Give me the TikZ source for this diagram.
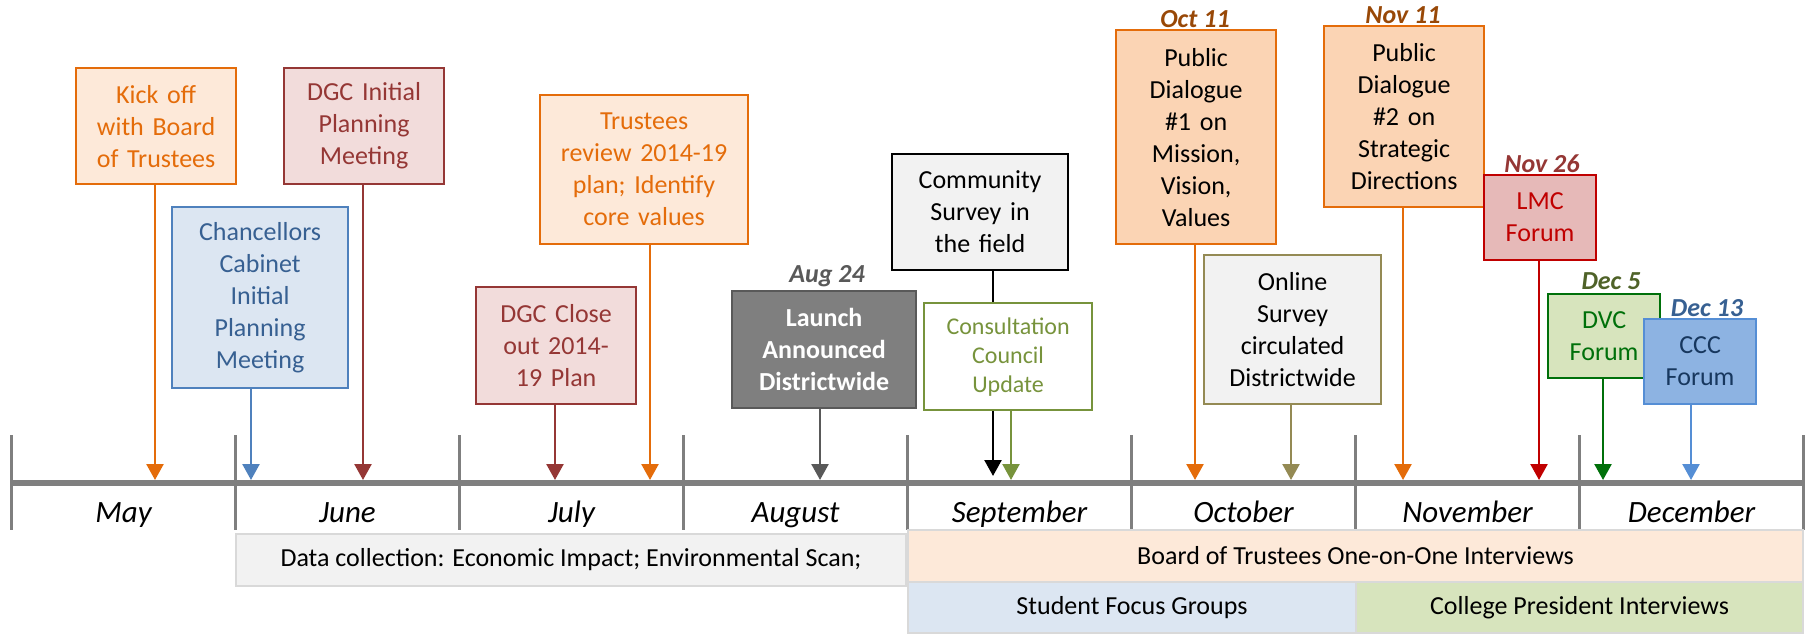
\documentclass[tikz,border=0pt]{standalone}
\usepackage{fontspec}
\setmainfont{Carlito}
\usetikzlibrary{arrows.meta}

\definecolor{lineGray}{HTML}{7F7F7F}
\definecolor{darkGray}{HTML}{595959}
\definecolor{barGray}{HTML}{D9D9D9}
\definecolor{paleGray}{HTML}{F2F2F2}
\definecolor{orng}{HTML}{E46C0A}
\definecolor{orngPale}{HTML}{FDE9D9}
\definecolor{orngLight}{HTML}{FBD4B4}
\definecolor{orngDark}{HTML}{984807}
\definecolor{brick}{HTML}{953735}
\definecolor{brickPale}{HTML}{F2DCDB}
\definecolor{blu}{HTML}{4F81BD}
\definecolor{bluText}{HTML}{376092}
\definecolor{bluPale}{HTML}{DCE6F2}
\definecolor{bluMid}{HTML}{8DB3E2}
\definecolor{bluLine}{HTML}{558ED5}
\definecolor{navy}{HTML}{17375E}
\definecolor{olive}{HTML}{77933C}
\definecolor{khaki}{HTML}{948A54}
\definecolor{crimson}{HTML}{C00000}
\definecolor{crimsonPale}{HTML}{E6B9B8}
\definecolor{grn}{HTML}{00700A}
\definecolor{grnPale}{HTML}{D7E4BD}
\definecolor{grnDark}{HTML}{4F6228}

\begin{document}
\begin{tikzpicture}[x=1pt,y=-1pt,
	ev/.style={draw,line width=2.2pt,inner sep=0pt,anchor=north west,align=center,font=\fontsize{26}{32}\selectfont},
	wh/.style 2 args={text width=#1,minimum height=#2},
	bar/.style={draw=barGray,line width=2pt,inner sep=0pt,anchor=north west,font=\fontsize{26}{32}\selectfont},
	date/.style={anchor=base,inner sep=0pt,font=\fontsize{26}{32}\selectfont\bfseries\itshape},
	month/.style={anchor=base,inner sep=0pt,font=\fontsize{31}{36}\selectfont\itshape},
	arr/.style={line width=2.5pt,-{Triangle[width=17pt,length=16pt]}}]
	\useasboundingbox (0,0) rectangle (1806,634);

	% time line and months
	\draw[line width=6pt,lineGray] (10,483) -- (1803,483);
	\foreach \i in {0,...,8}
		\draw[line width=3.5pt,lineGray] (11.5+224*\i,435) -- ++(0,95);
	\foreach \m [count=\i from 0] in {May,June,July,August,September,October,November,December}
		\node[month] (m\i) at (123.5+224*\i,522) {\m};

	% bars below
	\node[bar,fill=paleGray,minimum width=670,minimum height=52] (data) at (235,533) {Data collection: Economic Impact; Environmental Scan;};
	\node[bar,fill=orngPale,minimum width=895,minimum height=52] (board) at (907,529) {Board of Trustees One-on-One Interviews};
	\node[bar,fill=bluPale,minimum width=448,minimum height=51] (student) at (907,581) {Student Focus Groups};
	\node[bar,fill=grnPale,minimum width=447,minimum height=51] (college) at (1355,581) {College President Interviews};

	% May - August
	\node[ev,wh={160}{116},draw=orng,fill=orngPale,text=orng] (kick) at (75,67) {Kick off\\with Board\\of Trustees};
	\node[ev,wh={176}{181},draw=blu,fill=bluPale,text=bluText] (chanc) at (171,206) {Chancellors\\Cabinet\\Initial\\Planning\\Meeting};
	\node[ev,wh={160}{116},draw=brick,fill=brickPale,text=brick] (dgcA) at (283,67) {DGC Initial\\Planning\\Meeting};
	\node[ev,wh={208}{149},draw=orng,fill=orngPale,text=orng] (trust) at (539,94) {Trustees\\review 2014-19\\plan; Identify\\core values};
	\node[ev,wh={160}{117},draw=brick,fill=brickPale,text=brick] (dgcB) at (475,286) {DGC Close\\out 2014-\\19 Plan};
	\node[ev,wh={184}{117},draw=darkGray,fill=lineGray,text=white,font=\fontsize{26}{32}\selectfont\bfseries] (launch) at (731,290) {Launch\\Announced\\Districtwide};
	\node[date,text=darkGray] (d1) at (827,282) {Aug 24};

	\coordinate (kickT) at (155,480);
	\coordinate (chancT) at (251,480);
	\coordinate (dgcAT) at (363,480);
	\coordinate (dgcBT) at (555,480);
	\coordinate (trustT) at (650,480);
	\coordinate (launchT) at (820,480);
	\draw[arr,orng] (kick.south -| kickT) -- (kickT);
	\draw[arr,blu] (chanc.south -| chancT) -- (chancT);
	\draw[arr,brick] (dgcA.south -| dgcAT) -- (dgcAT);
	\draw[arr,brick] (dgcB.south -| dgcBT) -- (dgcBT);
	\draw[arr,orng] (trust.south -| trustT) -- (trustT);
	\draw[arr,darkGray] (launch.south -| launchT) -- (launchT);

	% September - December
	\node[ev,wh={176}{116},draw=black,fill=paleGray] (comm) at (891,153) {Community\\Survey in\\the field};
	\coordinate (commT) at (993,476);
	\draw[arr,black] (comm.south -| commT) -- (commT);
	\node[ev,wh={168}{107},draw=olive,fill=white,text=olive,font=\fontsize{24}{29}\selectfont] (consult) at (923,302) {Consultation\\Council\\Update};
	\node[ev,wh={160}{214},draw=orng,fill=orngLight] (pd1) at (1115,29) {Public\\Dialogue\\\#1 on\\Mission,\\Vision,\\Values};
	\node[date,text=orngDark] (d2) at (1195,28) {Oct 11};
	\node[ev,wh={177}{149},draw=khaki,fill=paleGray] (online) at (1203,254) {Online\\Survey\\circulated\\Districtwide};
	\node[ev,wh={160}{181},draw=orng,fill=orngLight] (pd2) at (1323,25) {Public\\Dialogue\\\#2 on\\Strategic\\Directions};
	\node[date,text=orngDark] (d3) at (1403,24) {Nov 11};
	\node[ev,wh={112}{85},draw=crimson,fill=crimsonPale,text=crimson] (lmc) at (1483,174) {LMC\\Forum};
	\node[date,text=brick] (d4) at (1542,172) {Nov 26};
	\node[ev,wh={112}{84},draw=grn,fill=grnPale,text=grn] (dvc) at (1547,293) {DVC\\Forum};
	\node[date,text=grnDark] (d5) at (1611,289) {Dec 5};
	\node[ev,wh={112}{85},draw=bluLine,fill=bluMid,text=navy] (ccc) at (1643,318) {CCC\\Forum};
	\node[date,text=bluText] (d6) at (1707,316) {Dec 13};

	\coordinate (consultT) at (1011,480);
	\coordinate (pd1T) at (1195,480);
	\coordinate (onlineT) at (1291,480);
	\coordinate (pd2T) at (1403,480);
	\coordinate (lmcT) at (1539,480);
	\coordinate (dvcT) at (1603,480);
	\coordinate (cccT) at (1691,480);
	\draw[arr,olive] (consult.south -| consultT) -- (consultT);
	\draw[arr,orng] (pd1.south -| pd1T) -- (pd1T);
	\draw[arr,khaki] (online.south -| onlineT) -- (onlineT);
	\draw[arr,orng] (pd2.south -| pd2T) -- (pd2T);
	\draw[arr,crimson] (lmc.south -| lmcT) -- (lmcT);
	\draw[arr,grn] (dvc.south -| dvcT) -- (dvcT);
	\draw[arr,bluLine] (ccc.south -| cccT) -- (cccT);
\end{tikzpicture}
\end{document}
